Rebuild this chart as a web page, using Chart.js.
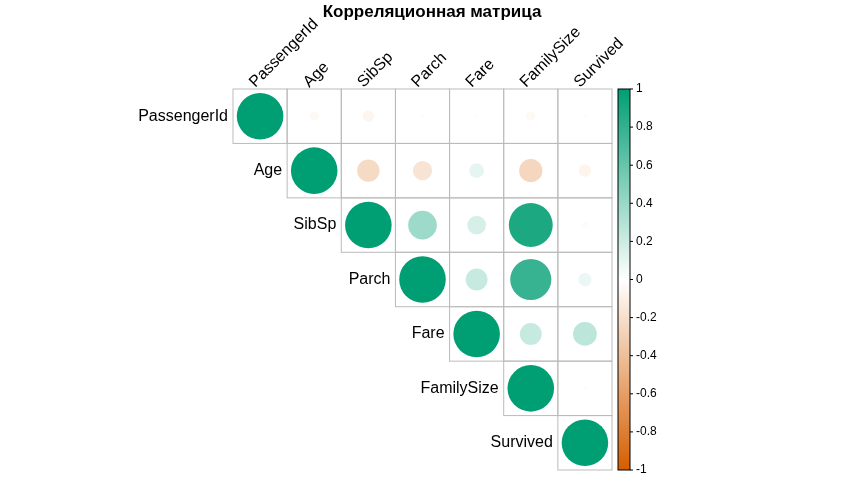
<!DOCTYPE html>
<html><head><meta charset="utf-8">
<script src="https://cdn.jsdelivr.net/npm/chart.js@4"></script>
<style>html,body{margin:0;background:#fff}#c{width:864px;height:480px}</style>
</head><body><div id="c"><canvas id="cv" width="864" height="480"></canvas></div>
<script>
const variables = ["PassengerId","Age","SibSp","Parch","Fare","FamilySize","Survived"];
const corrRows = [
  [1, -0.04, -0.06, -0.01, 0.01, -0.04, -0.01],
  [1, -0.23, -0.17, 0.10, -0.25, -0.07],
  [1, 0.38, 0.16, 0.89, -0.02],
  [1, 0.22, 0.78, 0.08],
  [1, 0.22, 0.26],
  [1, 0.01],
  [1]
];
const colorbarTicks = ["-1","-0.8","-0.6","-0.4","-0.2","0","0.2","0.4","0.6","0.8","1"];
const titleText = "Корреляционная матрица";

function colorFor(v){
  const w=[255,255,255], pos=[0,158,115], neg=[213,94,0];
  const t=Math.min(1,Math.abs(v)), c=v>=0?pos:neg;
  const m=w.map((a,i)=>Math.round(a+(c[i]-a)*t));
  return `rgb(${m[0]},${m[1]},${m[2]})`;
}
const points=[];
corrRows.forEach((row,i)=>row.forEach((v,k)=>{points.push({x:i+k+0.5,y:i+0.5,v:v,r:0});}));

const deco={id:'deco',
  beforeDatasetsDraw(chart){
    const ctx=chart.ctx,xs=chart.scales.x,ys=chart.scales.y;
    ctx.save();ctx.strokeStyle='#bbbbbb';ctx.lineWidth=1;
    points.forEach(p=>{
      const x0=xs.getPixelForValue(p.x-0.5),x1=xs.getPixelForValue(p.x+0.5);
      const y0=ys.getPixelForValue(p.y-0.5),y1=ys.getPixelForValue(p.y+0.5);
      ctx.strokeRect(x0,y0,x1-x0,y1-y0);
    });
    const cell=xs.getPixelForValue(1)-xs.getPixelForValue(0);
    points.forEach(p=>{
      const r=Math.sqrt(Math.abs(p.v))*cell/2*0.86;
      ctx.beginPath();ctx.arc(xs.getPixelForValue(p.x),ys.getPixelForValue(p.y),r,0,Math.PI*2);
      ctx.fillStyle=colorFor(p.v);ctx.fill();
    });
    ctx.restore();
  },
  afterDraw(chart){
    const ctx=chart.ctx,xs=chart.scales.x,ys=chart.scales.y,a=chart.chartArea;
    ctx.save();
    ctx.fillStyle='#000';ctx.font='16px "Liberation Sans", Arial';
    ctx.textAlign='right';ctx.textBaseline='middle';
    variables.forEach((n,i)=>ctx.fillText(n,xs.getPixelForValue(i)-5,ys.getPixelForValue(i+0.5)));
    variables.forEach((n,i)=>{
      ctx.save();ctx.translate(xs.getPixelForValue(i+0.5)-8,a.top-4);ctx.rotate(-Math.PI/4);
      ctx.textAlign='left';ctx.textBaseline='middle';ctx.fillText(n,0,0);ctx.restore();
    });
    const bx=618,bw=12,top=a.top,bot=a.bottom;
    const g=ctx.createLinearGradient(0,bot,0,top);
    for(let s=0;s<=20;s++){const v=-1+s*0.1;g.addColorStop(s/20,colorFor(v));}
    ctx.fillStyle=g;ctx.fillRect(bx,top,bw,bot-top);
    ctx.strokeStyle='#000';ctx.lineWidth=1;ctx.strokeRect(bx,top,bw,bot-top);
    ctx.fillStyle='#000';ctx.font='12px "Liberation Sans", Arial';ctx.textAlign='left';
    colorbarTicks.forEach((t,i)=>{
      const y=bot-(bot-top)*i/(colorbarTicks.length-1);
      ctx.beginPath();ctx.moveTo(bx+bw,y);ctx.lineTo(bx+bw+3,y);ctx.stroke();
      ctx.fillText(t,bx+bw+6,y);
    });
    ctx.font='bold 17px "Liberation Sans", Arial';ctx.textAlign='center';
    ctx.fillText(titleText,432,12);
    ctx.restore();
  }};

new Chart(document.getElementById('cv'),{
  type:'bubble',
  data:{datasets:[{data:points,backgroundColor:'rgba(0,0,0,0)',borderWidth:0,hoverRadius:0}]},
  options:{responsive:false,animation:false,
    layout:{padding:{left:233,right:252,top:89,bottom:10}},
    plugins:{legend:{display:false},tooltip:{enabled:false}},
    scales:{x:{type:'linear',min:0,max:7,display:false},
            y:{type:'linear',min:0,max:7,reverse:true,display:false}}},
  plugins:[deco]
});
</script></body></html>
